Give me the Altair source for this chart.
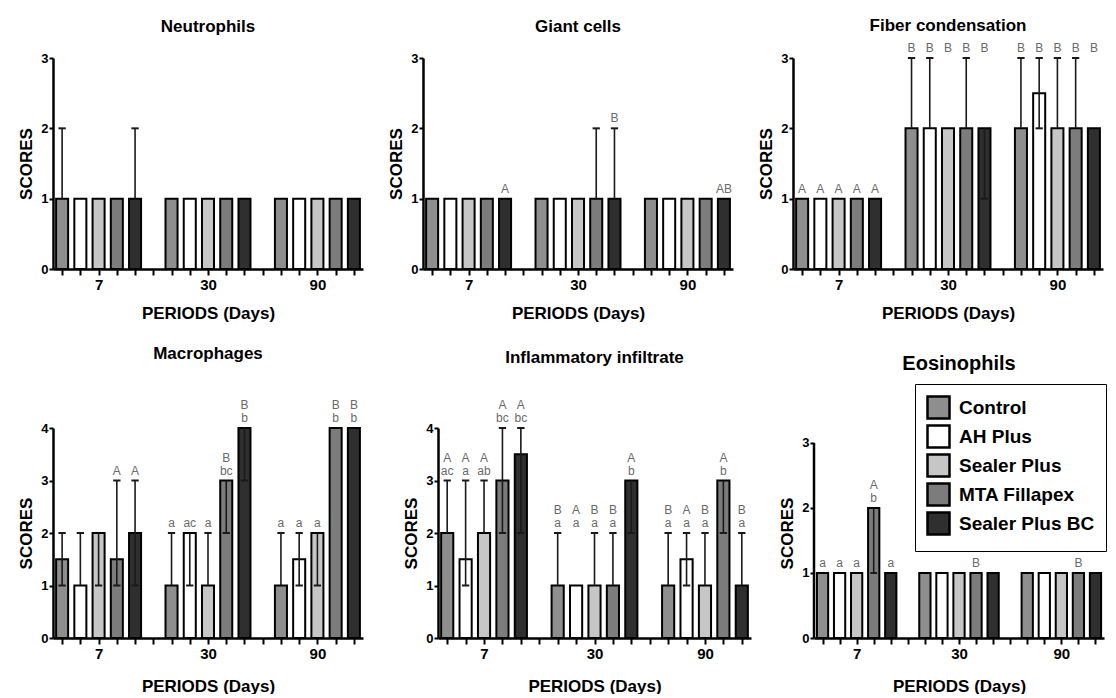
import altair as alt
import pandas as pd

FONT = "Liberation Sans"
GRAY_TXT = "#6a6a6a"

groups = ["Control", "AH Plus", "Sealer Plus", "MTA Fillapex", "Sealer Plus BC"]
fills = ["#8e8e8e", "#ffffff", "#c6c6c6", "#7c7c7c", "#2f2f2f"]
periods = ["7", "30", "90"]

# rows = periods (7, 30, 90); columns = groups
neu_mean = [[1, 1, 1, 1, 1], [1, 1, 1, 1, 1], [1, 1, 1, 1, 1]]
neu_low = [[1, 1, 1, 1, 1], [1, 1, 1, 1, 1], [1, 1, 1, 1, 1]]
neu_high = [[2, 1, 1, 1, 2], [1, 1, 1, 1, 1], [1, 1, 1, 1, 1]]
neu_letters = []

gia_mean = [[1, 1, 1, 1, 1], [1, 1, 1, 1, 1], [1, 1, 1, 1, 1]]
gia_low = [[1, 1, 1, 1, 1], [1, 1, 1, 1, 1], [1, 1, 1, 1, 1]]
gia_high = [[1, 1, 1, 1, 1], [1, 1, 1, 2, 2], [1, 1, 1, 1, 1]]
gia_letters = [(0, 4, "", "A", 1), (1, 4, "", "B", 2), (2, 4, "", "AB", 1)]

fib_mean = [[1, 1, 1, 1, 1], [2, 2, 2, 2, 2], [2, 2.5, 2, 2, 2]]
fib_low = [[1, 1, 1, 1, 1], [2, 2, 2, 2, 1], [2, 2, 2, 2, 2]]
fib_high = [[1, 1, 1, 1, 1], [3, 3, 2, 3, 2], [3, 3, 3, 3, 2]]
fib_letters = ([(0, g, "", "A", 1) for g in range(5)]
               + [(1, g, "", "B", 3) for g in range(5)]
               + [(2, g, "", "B", 3) for g in range(5)])

mac_mean = [[1.5, 1, 2, 1.5, 2], [1, 2, 1, 3, 4], [1, 1.5, 2, 4, 4]]
mac_low = [[1, 1, 1, 1, 1], [1, 1, 1, 2, 3], [1, 1, 1, 4, 4]]
mac_high = [[2, 2, 2, 3, 3], [2, 2, 2, 3, 4], [2, 2, 2, 4, 4]]
mac_letters = [(0, 3, "", "A", 3), (0, 4, "", "A", 3),
               (1, 0, "", "a", 2), (1, 1, "", "ac", 2), (1, 2, "", "a", 2),
               (1, 3, "B", "bc", 3), (1, 4, "B", "b", 4),
               (2, 0, "", "a", 2), (2, 1, "", "a", 2), (2, 2, "", "a", 2),
               (2, 3, "B", "b", 4), (2, 4, "B", "b", 4)]

inf_mean = [[2, 1.5, 2, 3, 3.5], [1, 1, 1, 1, 3], [1, 1.5, 1, 3, 1]]
inf_low = [[2, 1, 2, 2, 2], [1, 1, 1, 1, 2], [1, 1, 1, 2, 1]]
inf_high = [[3, 3, 3, 4, 4], [2, 1, 2, 2, 3], [2, 2, 2, 3, 2]]
inf_letters = [(0, 0, "A", "ac", 3), (0, 1, "A", "a", 3), (0, 2, "A", "ab", 3),
               (0, 3, "A", "bc", 4), (0, 4, "A", "bc", 4),
               (1, 0, "B", "a", 2), (1, 1, "A", "a", 2), (1, 2, "B", "a", 2),
               (1, 3, "B", "a", 2), (1, 4, "A", "b", 3),
               (2, 0, "B", "a", 2), (2, 1, "A", "a", 2), (2, 2, "B", "a", 2),
               (2, 3, "A", "b", 3), (2, 4, "B", "a", 2)]

eos_mean = [[1, 1, 1, 2, 1], [1, 1, 1, 1, 1], [1, 1, 1, 1, 1]]
eos_low = [[1, 1, 1, 1, 1], [1, 1, 1, 1, 1], [1, 1, 1, 1, 1]]
eos_high = [[1, 1, 1, 2, 1], [1, 1, 1, 1, 1], [1, 1, 1, 1, 1]]
eos_letters = [(0, 0, "", "a", 1), (0, 1, "", "a", 1), (0, 2, "", "a", 1),
               (0, 3, "A", "b", 2), (0, 4, "", "a", 1),
               (1, 3, "", "B", 1), (2, 3, "", "B", 1)]

NSLOT = len(periods) * (len(groups) + 1) - 1
label_pos = {pi * (len(groups) + 1) + len(groups) // 2: p for pi, p in enumerate(periods)}
label_expr = "".join(f"datum.value == {k} ? '{v}' : " for k, v in label_pos.items()) + "''"

legend = alt.Legend(title=None, orient="none", legendX=862, legendY=326,
                    symbolType="square", symbolSize=484, symbolStrokeColor="black",
                    symbolStrokeWidth=2.5, symbolOpacity=1, labelFont=FONT,
                    labelFontSize=19, labelFontWeight="bold", labelColor="black",
                    labelOffset=8, rowPadding=-4, padding=11, strokeColor="black",
                    fillColor="white", labelLimit=300)


def panel(title, mean, low, high, letters, ymax, width, height, title_offset,
          xtitle_pad, title_size=17, ytop=None):
    rows = []
    for pi in range(len(periods)):
        for gi, g in enumerate(groups):
            rows.append(dict(pos=pi * (len(groups) + 1) + gi, group=g,
                             mean=mean[pi][gi], low=low[pi][gi], high=high[pi][gi]))
    df = pd.DataFrame(rows)
    lab = pd.DataFrame([dict(pos=pi * (len(groups) + 1) + gi, top=t, bot=b, lvl=l)
                        for (pi, gi, t, b, l) in letters] or
                       [dict(pos=0, top="", bot="", lvl=0)])

    xs = alt.Scale(domain=[-0.5, NSLOT - 0.5], nice=False, zero=False)
    ydom_max = ytop if ytop is not None else ymax
    ys = alt.Scale(domain=[0, ydom_max], nice=False)

    xaxis = alt.Axis(values=list(range(NSLOT)), labelExpr=label_expr,
                     title="PERIODS (Days)", grid=False, tickSize=6, tickWidth=2,
                     tickColor="black", domainColor="black", domainWidth=2.5,
                     labelFont=FONT, labelFontSize=15, labelFontWeight="bold",
                     labelColor="black", labelPadding=2, labelOverlap=False,
                     labelFlush=False, titleFont=FONT, titleFontSize=17,
                     titleFontWeight="bold", titleColor="black",
                     titlePadding=xtitle_pad)
    yaxis = alt.Axis(values=list(range(ymax + 1)), format="d", title="SCORES",
                     grid=False, tickSize=4, tickWidth=2, tickColor="black",
                     domain=(ytop is None), domainColor="black", domainWidth=2.5,
                     labelFont=FONT, labelFontSize=13, labelFontWeight="bold",
                     labelColor="black", labelPadding=1, titleFont=FONT,
                     titleFontSize=17, titleFontWeight="bold", titleColor="black",
                     titlePadding=5)

    def X(f):
        return alt.X(f, scale=xs, axis=xaxis)

    def Y(f):
        return alt.Y(f, scale=ys, axis=yaxis)

    base = alt.Chart(df)
    bars = base.mark_bar(stroke="black", strokeWidth=2, opacity=1).transform_calculate(
        xa="datum.pos - 0.33", xb="datum.pos + 0.33").encode(
        x=X("xa:Q"), x2="xb:Q",
        y=Y("mean:Q"), y2=alt.datum(0),
        color=alt.Color("group:N", scale=alt.Scale(domain=groups, range=fills),
                        legend=legend),
    )
    err = base.mark_rule(color="#1a1a1a", strokeWidth=1.6).transform_filter(
        "datum.high > datum.low").encode(
        x=X("pos:Q"), y=Y("low:Q"), y2="high:Q")
    cap_hi = base.mark_rule(color="#1a1a1a", strokeWidth=2).transform_filter(
        "datum.high > datum.mean").transform_calculate(
        ca="datum.pos - 0.2", cb="datum.pos + 0.2").encode(
        x=X("ca:Q"), x2="cb:Q", y=Y("high:Q"))
    cap_lo = base.mark_rule(color="#1a1a1a", strokeWidth=2).transform_filter(
        "datum.low < datum.mean").transform_calculate(
        ca="datum.pos - 0.2", cb="datum.pos + 0.2").encode(
        x=X("ca:Q"), x2="cb:Q", y=Y("low:Q"))
    tbase = alt.Chart(lab)
    txt_bot = tbase.mark_text(font=FONT, fontSize=12, color=GRAY_TXT,
                              baseline="alphabetic", dy=-6).transform_filter(
        "datum.bot != ''").encode(x=X("pos:Q"), y=Y("lvl:Q"), text="bot:N")
    txt_top = tbase.mark_text(font=FONT, fontSize=12, color=GRAY_TXT,
                              baseline="alphabetic", dy=-19).transform_filter(
        "datum.top != ''").encode(x=X("pos:Q"), y=Y("lvl:Q"), text="top:N")
    layers = [bars, err, cap_hi, cap_lo, txt_bot, txt_top]
    if ytop is not None:
        yline = alt.Chart(pd.DataFrame({"a": [0], "b": [ymax]})).mark_rule(
            color="black", strokeWidth=2.5).encode(
            x=alt.value(0), y=Y("a:Q"), y2="b:Q")
        layers.append(yline)
    return alt.layer(*layers).properties(
        width=width, height=height,
        title=alt.TitleParams(title, font=FONT, fontSize=title_size, fontWeight="bold",
                              color="black", anchor="middle", frame="group",
                              offset=title_offset))


p1 = panel("Neutrophils", neu_mean, neu_low, neu_high, neu_letters, 3, 310, 211, 16, 13)
p2 = panel("Giant cells", gia_mean, gia_low, gia_high, gia_letters, 3, 310, 211, 16, 13)
p3 = panel("Fiber condensation", fib_mean, fib_low, fib_high, fib_letters, 3, 310, 211, 7, 13)
p4 = panel("Macrophages", mac_mean, mac_low, mac_high, mac_letters, 4, 310, 210, 36, 17)
p5 = panel("Inflammatory infiltrate", inf_mean, inf_low, inf_high, inf_letters, 4, 313, 210,
           32, 17)
p6 = panel("Eosinophils", eos_mean, eos_low, eos_high, eos_letters, 3, 290, 210, 54, 17,
           title_size=20, ytop=3.23)

row1 = alt.hconcat(p1, p2, p3, spacing=60, bounds="flush")
row2 = alt.hconcat(p4, alt.hconcat(p5, p6, spacing=63, bounds="flush"), spacing=39)
chart = alt.vconcat(row1, row2, spacing=24).properties(
    padding={"left": 9, "top": 9, "right": 0, "bottom": 0}
).configure_view(stroke=None)

chart.save("out.html", embed_options={"renderer": "svg", "actions": False})
